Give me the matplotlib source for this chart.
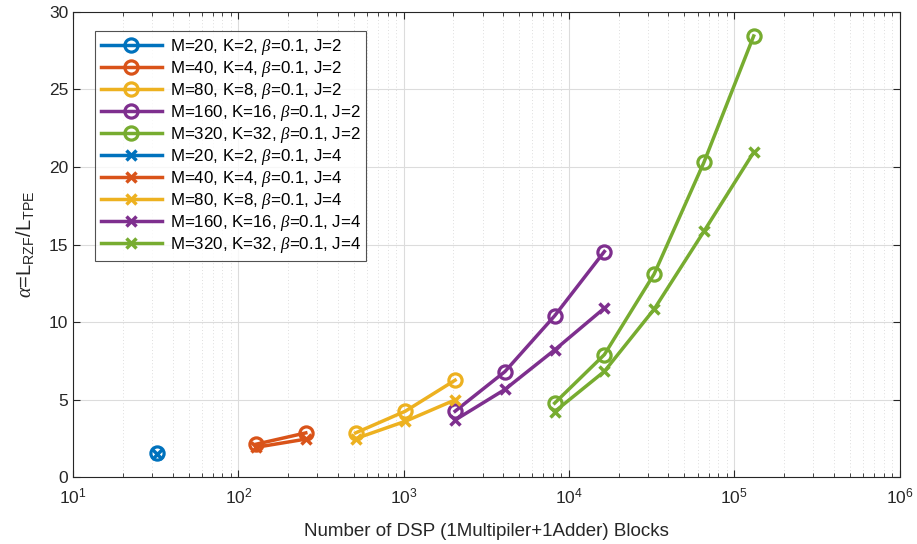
import numpy as np
import matplotlib
matplotlib.use('Agg')
from matplotlib import pyplot as plt
from matplotlib.ticker import LogLocator, NullFormatter

plt.rcParams['font.family'] = ['Liberation Sans', 'DejaVu Sans']
plt.rcParams['mathtext.fontset'] = 'custom'
plt.rcParams['mathtext.it'] = 'Liberation Serif:italic'
plt.rcParams['mathtext.rm'] = 'Liberation Sans'

# data
m_vals = [20, 40, 80, 160, 320]
k_vals = [2, 4, 8, 16, 32]
dsp_20 = [32]
dsp_40 = [128, 256]
dsp_80 = [512, 1024, 2048]
dsp_160 = [2048, 4096, 8192, 16384]
dsp_320 = [8192, 16384, 32768, 65536, 131072]
j2_20 = [1.55]
j2_40 = [2.12, 2.85]
j2_80 = [2.85, 4.25, 6.25]
j2_160 = [4.25, 6.8, 10.4, 14.55]
j2_320 = [4.77, 7.9, 13.1, 20.3, 28.45]
j4_20 = [1.5]
j4_40 = [1.92, 2.45]
j4_80 = [2.48, 3.6, 4.98]
j4_160 = [3.68, 5.65, 8.2, 10.9]
j4_320 = [4.22, 6.82, 10.83, 15.85, 20.95]

colors = ['#0072BD', '#D95319', '#EDB120', '#7E2F8E', '#77AC30']
dsp = [dsp_20, dsp_40, dsp_80, dsp_160, dsp_320]
j2 = [j2_20, j2_40, j2_80, j2_160, j2_320]
j4 = [j4_20, j4_40, j4_80, j4_160, j4_320]

fig = plt.figure(figsize=(9.17, 5.44), dpi=100)
ax = fig.add_axes([0.0796, 0.123, 0.9014, 0.855])

for i in range(5):
    ax.plot(dsp[i], j2[i], '-o', color=colors[i], lw=2.5, ms=9.5, mfc='none', mew=2.3,
            label=f'M={m_vals[i]}, K={k_vals[i]}, $\\beta$=0.1, J=2')
for i in range(5):
    ax.plot(dsp[i], j4[i], '-x', color=colors[i], lw=2.5, ms=7.5, mew=2.5,
            label=f'M={m_vals[i]}, K={k_vals[i]}, $\\beta$=0.1, J=4')

ax.set_xscale('log')
ax.set_xlim(10, 1e6)
ax.set_ylim(0, 30)
ax.set_yticks([0, 5, 10, 15, 20, 25, 30])
ax.xaxis.set_minor_locator(LogLocator(base=10, subs=np.arange(2, 10), numticks=20))
ax.xaxis.set_minor_formatter(NullFormatter())
ax.grid(True, which='major', color='#dcdcdc', lw=0.8)
ax.grid(True, which='minor', axis='x', color='#d4d4d4', lw=0.6, ls=(0, (1, 3)))
ax.set_axisbelow(True)
ax.tick_params(which='both', direction='in', top=True, right=True, labelsize=12.5, colors='#262626')
ax.tick_params(which='major', length=5)
ax.tick_params(which='minor', length=3)
ax.tick_params(axis='x', which='major', pad=7)
for s in ax.spines.values():
    s.set_color('#262626')
    s.set_linewidth(0.8)

ax.set_xlabel('Number of DSP (1Multipiler+1Adder) Blocks', fontsize=13.5, color='#262626', labelpad=12)
ax.set_ylabel(r'$\alpha$=L$_{\mathrm{RZF}}$/L$_{\mathrm{TPE}}$', fontsize=14.5, color='#262626', labelpad=9)

leg = ax.legend(loc='upper left', bbox_to_anchor=(0.0266, 0.959), fontsize=12.2, frameon=True,
                fancybox=False, edgecolor='#262626', handlelength=3.6, labelspacing=0.12,
                borderpad=0.35, handletextpad=0.45, borderaxespad=0)
leg.get_frame().set_linewidth(0.8)

fig.savefig('out.png', dpi=100)
